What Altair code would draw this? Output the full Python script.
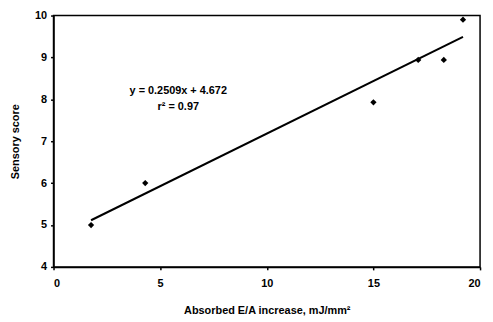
import altair as alt
import pandas as pd

# Data points
energy = [1.76, 4.3, 15.0, 17.1, 18.3, 19.2]
score = [5.0, 6.0, 7.93, 8.94, 8.94, 9.9]

# Fitted line y = 0.2509x + 4.672, drawn over the data range
slope = 0.2509
intercept = 4.672
fit_x = [min(energy), max(energy)]
fit_y = [slope * v + intercept for v in fit_x]

# Annotation
ann_text = ["y = 0.2509x + 4.672", "r² = 0.97"]
ann_x = [5.85, 5.85]
ann_y = [8.2, 7.81]

pts = pd.DataFrame({"x": energy, "y": score})
fit = pd.DataFrame({"x": fit_x, "y": fit_y})
ann = pd.DataFrame({"x": ann_x, "y": ann_y, "t": ann_text})

FONT = "Liberation Sans"

xs = alt.Scale(domain=[0, 20], nice=False, zero=False)
ys = alt.Scale(domain=[4, 10], nice=False, zero=False)

xax = alt.Axis(values=[0, 5, 10, 15, 20], title="Absorbed E/A increase, mJ/mm²",
               grid=False, tickSize=3, labelPadding=8, titlePadding=16)
yax = alt.Axis(values=[4, 5, 6, 7, 8, 9, 10], title="Sensory score",
               grid=False, tickSize=3, labelPadding=4, titlePadding=14)

points = alt.Chart(pts).mark_point(shape="diamond", filled=True, color="black", size=40, opacity=1).encode(
    x=alt.X("x:Q", scale=xs, axis=xax),
    y=alt.Y("y:Q", scale=ys, axis=yax),
)

line = alt.Chart(fit).mark_line(color="black", strokeWidth=2).encode(
    x=alt.X("x:Q", scale=xs),
    y=alt.Y("y:Q", scale=ys),
)

text = alt.Chart(ann).mark_text(font=FONT, fontSize=11, fontWeight="bold", color="black").encode(
    x=alt.X("x:Q", scale=xs),
    y=alt.Y("y:Q", scale=ys),
    text="t:N",
)

chart = alt.layer(line, points, text).properties(
    width=431, height=254,
    autosize=alt.AutoSizeParams(type="none"),
    padding={"left": 46, "top": 6, "right": 5, "bottom": 50},
).configure_view(
    stroke="black", strokeWidth=1.5
).configure_axis(
    domainColor="black", domainWidth=1.5, tickColor="black", tickWidth=1.5,
    labelFont=FONT, labelFontSize=11, labelFontWeight="bold", labelColor="black",
    titleFont=FONT, titleFontSize=11, titleFontWeight="bold", titleColor="black",
)

chart.save("out.html", embed_options={"renderer": "svg", "actions": False})
